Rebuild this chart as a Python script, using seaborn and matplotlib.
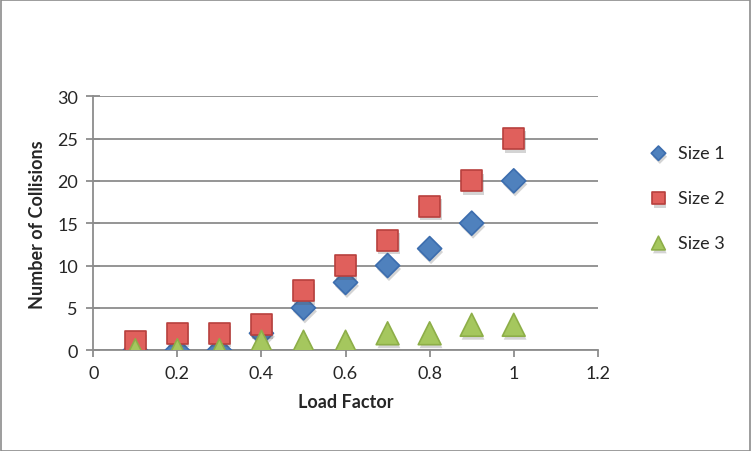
import pandas as pd
import matplotlib.pyplot as plt
import matplotlib.patheffects as pe
import seaborn as sns

load_factor = [0.1, 0.2, 0.3, 0.4, 0.5, 0.6, 0.7, 0.8, 0.9, 1.0]
size1 = [0, 0, 0, 2, 5, 8, 10, 12, 15, 20]
size2 = [1, 2, 2, 3, 7, 10, 13, 17, 20, 25]
size3 = [0, 0, 0, 1, 1, 1, 2, 2, 3, 3]
series_names = ["Size 1", "Size 2", "Size 3"]

data = pd.DataFrame({
    "Load Factor": load_factor * 3,
    "Number of Collisions": size1 + size2 + size3,
    "Series": [n for n in series_names for _ in load_factor],
})

face = {"Size 1": "#4F81BD", "Size 2": "#E0605C", "Size 3": "#A5C75E"}
edge = {"Size 1": "#3C6DAE", "Size 2": "#B8403D", "Size 3": "#8DAE48"}
markers = {"Size 1": "D", "Size 2": "s", "Size 3": "^"}
sizes = {"Size 1": 150, "Size 2": 230, "Size 3": 270}

sns.set_style("white")
plt.rcParams['font.family'] = ['Lato', 'DejaVu Sans']

fig = plt.figure(figsize=(7.52, 4.52), dpi=100)
ax = fig.add_axes([0.124, 0.223, 0.671, 0.562])

shadow = [pe.SimplePatchShadow(offset=(1, -2.5), shadow_rgbFace="#555555", alpha=0.25), pe.Normal()]

for name in series_names:
    sub = data[data["Series"] == name]
    sns.scatterplot(
        data=sub,
        x="Load Factor",
        y="Number of Collisions",
        marker=markers[name],
        color=face[name],
        edgecolor=edge[name],
        linewidth=1.2,
        s=sizes[name],
        label=name,
        ax=ax,
        zorder=3,
    )
    ax.collections[-1].set_path_effects(shadow)

ax.set_xlim(0, 1.2)
ax.set_ylim(0, 30)
ax.set_xticks([0, 0.2, 0.4, 0.6, 0.8, 1.0, 1.2])
ax.set_xticklabels(["0", "0.2", "0.4", "0.6", "0.8", "1", "1.2"])
ax.set_yticks([0, 5, 10, 15, 20, 25, 30])

ax.grid(axis="y", color="#8c8c8c", linewidth=1.3, zorder=0)
ax.grid(axis="x", visible=False)
for side in ["top", "right"]:
    ax.spines[side].set_visible(False)
for side in ["left", "bottom"]:
    ax.spines[side].set_color("#8c8c8c")
    ax.spines[side].set_linewidth(1.3)

ax.tick_params(axis="x", direction="out", length=5, width=1.3, color="#8c8c8c",
               labelsize=13, pad=6, bottom=True)
ax.tick_params(axis="y", direction="inout", length=10, width=1.3, color="#8c8c8c",
               labelsize=13, pad=6, left=True)

ax.set_xlabel("Load Factor", fontsize=13, fontweight="bold", labelpad=8)
ax.set_ylabel("Number of Collisions", fontsize=13, fontweight="bold", labelpad=8)

ax.legend_.remove()
handles, labels = ax.get_legend_handles_labels()
leg = fig.legend(
    handles, labels,
    loc="center left",
    bbox_to_anchor=(0.83, 0.56),
    frameon=False,
    fontsize=13,
    labelspacing=1.6,
    handletextpad=0.1,
    markerscale=0.6,
)

border = plt.Rectangle((0.001, 0.001), 0.997, 0.997, transform=fig.transFigure,
                       fill=False, edgecolor="#8c8c8c", linewidth=1.2)
fig.patches.append(border)

plt.savefig("out.png", dpi=100)
